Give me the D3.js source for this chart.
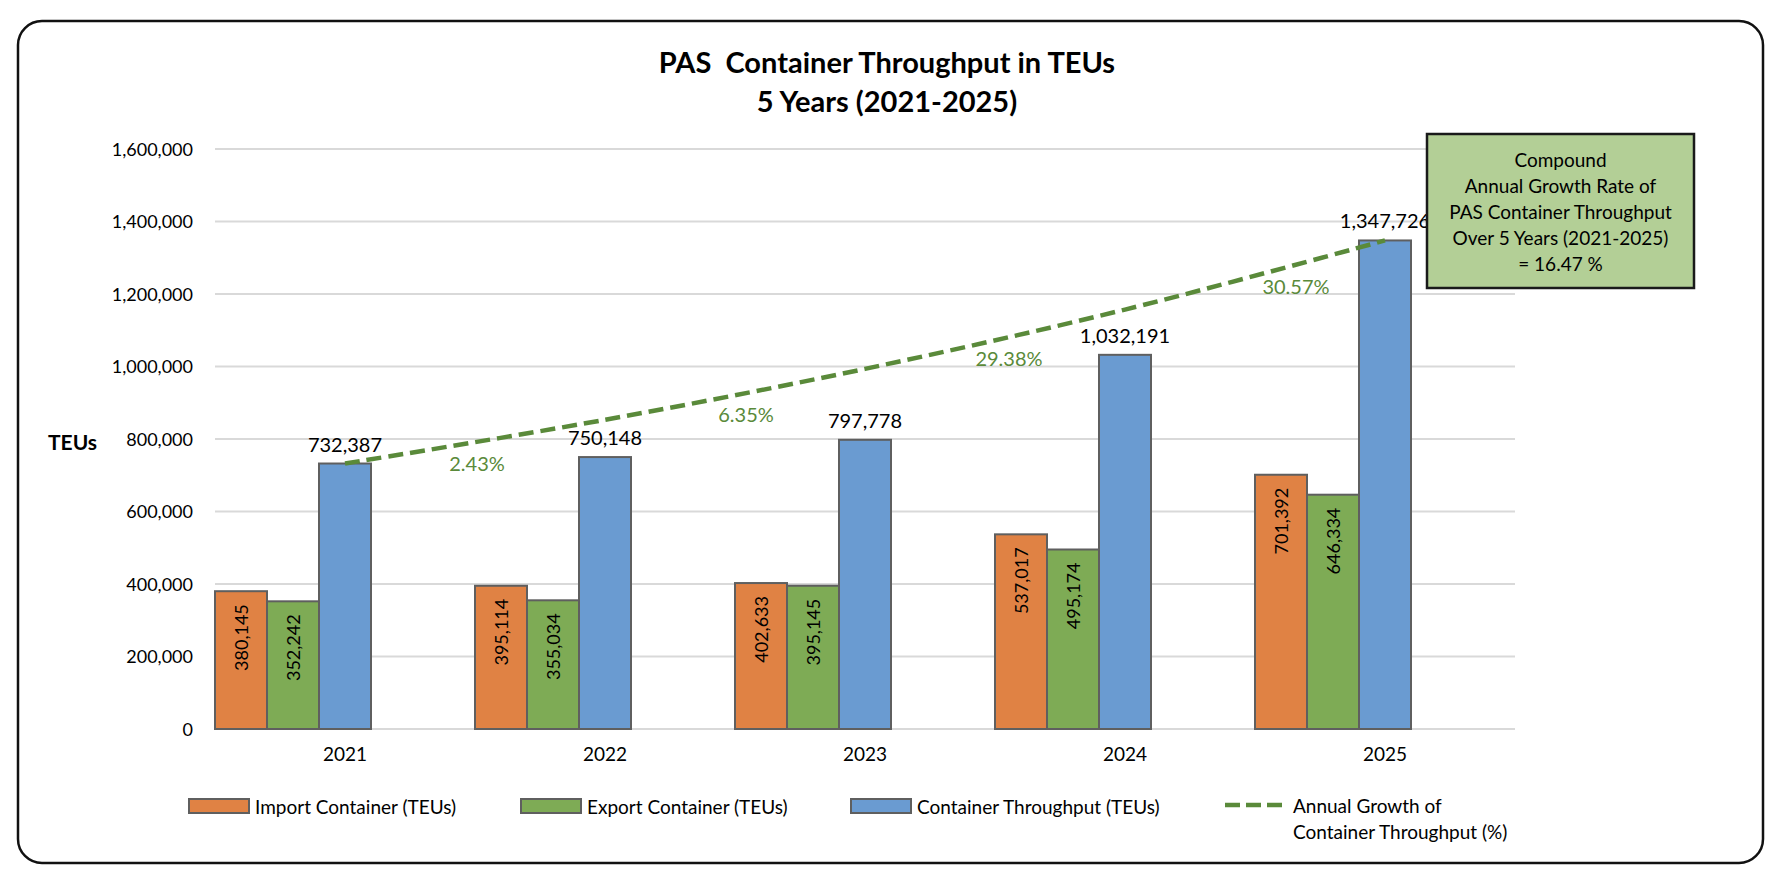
<!DOCTYPE html>
<html>
<head>
<meta charset="utf-8">
<script src="https://cdn.jsdelivr.net/npm/d3@7/dist/d3.min.js"></script>
<style>
  html, body { margin: 0; padding: 0; background: #fff; }
  svg { display: block; font-family: Lato, "Open Sans", "Liberation Sans", sans-serif; }
</style>
</head>
<body>
<svg id="chart" width="1780" height="880"></svg>
<script>
// ---------------- data ----------------
const years = ["2021", "2022", "2023", "2024", "2025"];
const importTEU = [380145, 395114, 402633, 537017, 701392];
const exportTEU = [352242, 355034, 395145, 495174, 646334];
const throughputTEU = [732387, 750148, 797778, 1032191, 1347726];
// dashed compound-growth path (TEUs)
const growthPath = [732387, 853000, 993500, 1157000, 1347726];
const growthPct = ["2.43%", "6.35%", "29.38%", "30.57%"];
const yTicks = [0, 200000, 400000, 600000, 800000, 1000000, 1200000, 1400000, 1600000];
const seriesNames = ["Import Container (TEUs)", "Export Container (TEUs)", "Container Throughput (TEUs)"];
const lineName = ["Annual Growth of", "Container Throughput (%)"];
const titleLines = ["PAS  Container Throughput in TEUs", "5 Years (2021-2025)"];
const boxLines = ["Compound", "Annual Growth Rate of", "PAS Container Throughput", "Over 5 Years (2021-2025)", "= 16.47 %"];
const yAxisTitle = "TEUs";

// ---------------- styles ----------------
const colors = ["#e08244", "#7eab55", "#6a9bd1"];
const barStroke = "#5f5f5f";
const lineColor = "#5a8a3a";
const gridColor = "#d9d9d9";

const svg = d3.select("#chart");

// outer rounded frame
svg.append("rect")
  .attr("x", 18).attr("y", 21).attr("width", 1745).attr("height", 842)
  .attr("rx", 24).attr("ry", 24)
  .attr("fill", "#fff").attr("stroke", "#111").attr("stroke-width", 2.5);

// scales
const x = d3.scaleBand().domain(years).range([215, 1515]).paddingInner(0).paddingOuter(0);
const slot = d3.scaleBand().domain([0, 1, 2, 3, 4]).range([0, x.bandwidth()]);
const y = d3.scaleLinear().domain([0, 1600000]).range([729, 149]);

// gridlines
svg.append("g").selectAll("line").data(yTicks).join("line")
  .attr("x1", 215).attr("x2", 1515)
  .attr("y1", d => y(d)).attr("y2", d => y(d))
  .attr("stroke", gridColor).attr("stroke-width", 2);

// y axis labels
const fmt = d3.format(",");
const yAxis = d3.axisLeft(y).tickValues(yTicks).tickFormat(fmt).tickSize(0).tickPadding(0);
const gy = svg.append("g").attr("transform", "translate(193,0)").call(yAxis);
gy.select(".domain").remove();
gy.selectAll("text").attr("font-size", 18).attr("fill", "#000")
  .attr("font-family", "Lato, sans-serif").attr("dy", "0.35em");

// y axis title
svg.append("text").attr("x", 48).attr("y", 441).attr("dominant-baseline", "central")
  .attr("font-size", 21).attr("font-weight", "bold").text(yAxisTitle);

// x axis labels
const xAxis = d3.axisBottom(x).tickSize(0).tickPadding(0);
const gx = svg.append("g").attr("transform", "translate(0,748)").call(xAxis);
gx.select(".domain").remove();
gx.selectAll("text").attr("font-size", 19).attr("fill", "#000")
  .attr("font-family", "Lato, sans-serif").attr("dy", "0.7em");

// bars
const seriesVals = [importTEU, exportTEU, throughputTEU];
seriesVals.forEach((vals, si) => {
  const g = svg.append("g");
  g.selectAll("rect").data(vals).join("rect")
    .attr("x", (d, i) => x(years[i]) + slot(si))
    .attr("y", d => y(d))
    .attr("width", slot.bandwidth())
    .attr("height", d => y(0) - y(d))
    .attr("fill", colors[si])
    .attr("stroke", barStroke).attr("stroke-width", 2);
});

// rotated inside labels for import / export
[importTEU, exportTEU].forEach((vals, si) => {
  svg.append("g").selectAll("text").data(vals).join("text")
    .attr("transform", (d, i) => {
      const cx = x(years[i]) + slot(si) + slot.bandwidth() / 2;
      const ty = y(d) + 13;
      return `translate(${cx},${ty}) rotate(-90)`;
    })
    .attr("text-anchor", "end").attr("dominant-baseline", "central")
    .attr("font-size", 18).attr("fill", "#000")
    .text(d => fmt(d));
});

// throughput labels above bars
svg.append("g").selectAll("text").data(throughputTEU).join("text")
  .attr("x", (d, i) => x(years[i]) + slot(2) + slot.bandwidth() / 2)
  .attr("y", d => y(d) - 20)
  .attr("text-anchor", "middle").attr("dominant-baseline", "central")
  .attr("font-size", 20).attr("fill", "#000")
  .text(d => fmt(d));

// dashed growth line
const cxOf = i => x(years[i]) + x.bandwidth() / 2;
const line = d3.line().x((d, i) => cxOf(i)).y(d => y(d)).curve(d3.curveCatmullRom.alpha(0.5));
svg.append("path").datum(growthPath)
  .attr("d", line)
  .attr("fill", "none").attr("stroke", lineColor)
  .attr("stroke-width", 4.5).attr("stroke-dasharray", "15,7");

// growth percentage labels
const pctDx = [2, 11, 14, 41];
svg.append("g").selectAll("text").data(growthPct).join("text")
  .each(function (d, i) {
    const x0 = cxOf(i), x1 = cxOf(i + 1);
    const px = (x0 + x1) / 2 + pctDx[i];
    const t = (px - x0) / (x1 - x0);
    const py = y(growthPath[i]) + t * (y(growthPath[i + 1]) - y(growthPath[i])) + 22;
    d3.select(this).attr("x", px).attr("y", py);
  })
  .attr("text-anchor", "middle").attr("dominant-baseline", "central")
  .attr("font-size", 20).attr("fill", lineColor)
  .text(d => d);

// title
svg.append("g").selectAll("text").data(titleLines).join("text")
  .attr("x", 887).attr("y", (d, i) => 61 + i * 39)
  .attr("text-anchor", "middle").attr("dominant-baseline", "central")
  .attr("font-size", 29).attr("font-weight", "bold").attr("fill", "#000")
  .attr("xml:space", "preserve").style("white-space", "pre")
  .text(d => d);

// CAGR box
const box = svg.append("g");
box.append("rect").attr("x", 1427).attr("y", 134).attr("width", 267).attr("height", 154)
  .attr("fill", "#b3cf96").attr("stroke", "#1a1a1a").attr("stroke-width", 2.5);
box.selectAll("text").data(boxLines).join("text")
  .attr("x", 1560.5).attr("y", (d, i) => 159 + i * 26)
  .attr("text-anchor", "middle").attr("dominant-baseline", "central")
  .attr("font-size", 19).attr("fill", "#000")
  .text(d => d);

// legend
const legX = [189, 521, 851];
const leg = svg.append("g");
seriesNames.forEach((name, i) => {
  leg.append("rect").attr("x", legX[i]).attr("y", 799).attr("width", 60).attr("height", 14)
    .attr("fill", colors[i]).attr("stroke", barStroke).attr("stroke-width", 2);
  leg.append("text").attr("x", legX[i] + 66).attr("y", 806)
    .attr("dominant-baseline", "central").attr("font-size", 19).attr("fill", "#000")
    .text(name);
});
leg.append("line").attr("x1", 1225).attr("x2", 1282).attr("y1", 805).attr("y2", 805)
  .attr("stroke", lineColor).attr("stroke-width", 4.5).attr("stroke-dasharray", "15,6");
leg.selectAll("text.ln").data(lineName).join("text").attr("class", "ln")
  .attr("x", 1293).attr("y", (d, i) => 805 + i * 26)
  .attr("dominant-baseline", "central").attr("font-size", 19).attr("fill", "#000")
  .text(d => d);
</script>
</body>
</html>
